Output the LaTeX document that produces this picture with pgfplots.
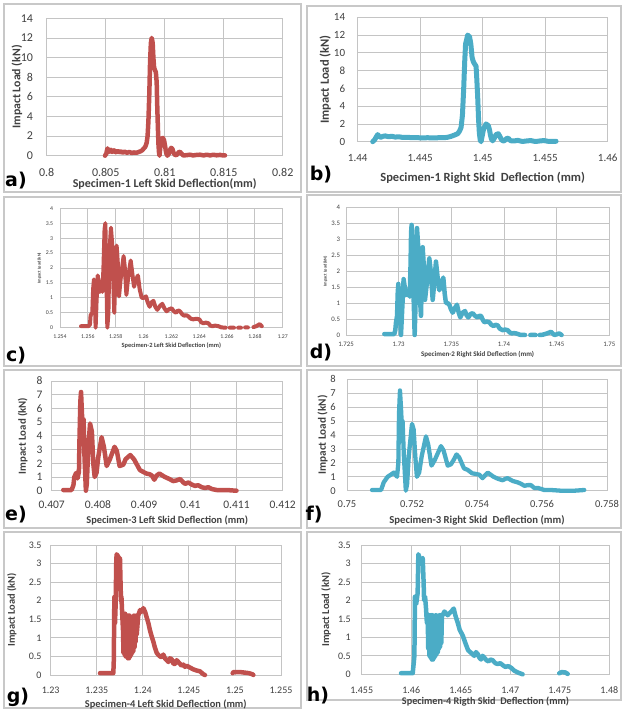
\documentclass[border=0pt]{standalone}
\usepackage{pgfplots}
\pgfplotsset{compat=1.18}
\usepackage{fontspec}
\setmainfont{Carlito}
\newfontfamily\lett{DejaVu Sans}
\definecolor{exred}{HTML}{C0504D}
\definecolor{excyan}{HTML}{4BACC6}
\definecolor{gridc}{HTML}{C4C4C4}
\definecolor{framec}{HTML}{C8C8C8}
\definecolor{txt}{HTML}{404040}
\newcommand\fs[1]{\fontsize{#1}{#1}\selectfont}

\pgfplotsset{
  excel/.style={
    scale only axis, anchor=south west,
    axis line style={draw=gridc, line width=0.8pt},
    grid=major, major grid style={draw=gridc, line width=0.8pt},
    tick style={draw=none},
    scaled x ticks=false, scaled y ticks=false,
    /pgf/number format/fixed, /pgf/number format/precision=3,
    /pgf/number format/assume math mode=true,
    clip=false, unbounded coords=jump,
    ticklabel style={text=txt},
    every axis x label/.style={at={(axis description cs:0.5,0)}, anchor=center, font=\bfseries, text=txt},
    every axis y label/.style={rotate=90, anchor=center, font=\bfseries, text=txt},
  },
  redline/.style={exred, line join=round, line cap=round},
  cyanline/.style={excyan, line join=round, line cap=round},
}

\begin{document}
\begin{tikzpicture}[x=1pt,y=1pt]
\path[use as bounding box] (0,0) rectangle (622,713);
% panel frames
\begin{scope}[draw=framec, line width=1.2pt]
\draw (4,521) rectangle (301,709);
\draw (307,521) rectangle (621,707);
\draw (4,347) rectangle (301,516);
\draw (307,347) rectangle (621,518);
\draw (4,185) rectangle (301,343);
\draw (307,185) rectangle (621,343);
\draw (4,5) rectangle (301,181);
\draw (307,13) rectangle (621,181);
\end{scope}

% (a)
\begin{axis}[excel, at={(46.7pt,557.3pt)}, width=236pt, height=137.4pt,
  xmin=0.8, xmax=0.82, ymin=0, ymax=14,
  xtick={0.8,0.805,0.81,0.815,0.82}, ytick={0,2,4,6,8,10,12,14},
  xticklabel style={font=\fs{12}, anchor=center, yshift=-17pt},
  yticklabel style={font=\fs{12}, anchor=east, inner sep=0pt, xshift=-13.5pt},
  xlabel={Specimen-1 Left Skid Deflection(mm)},
  xlabel style={font=\fs{12}\bfseries, yshift=-28.3pt},
  ylabel={Impact Load (kN)},
  ylabel style={font=\fs{11.8}\bfseries, at={(axis description cs:-0.1258,0.5)}}]
\addplot[redline, line width=4.5pt] coordinates {
(0.80494,0)(0.80505,0.2)(0.80515,0.75)(0.8052,0.35)(0.80527,0.65)(0.80535,0.4)(0.80545,0.6)(0.80555,0.38)(0.8057,0.55)(0.80585,0.35)(0.806,0.5)(0.80615,0.33)(0.8063,0.45)(0.80645,0.3)(0.8066,0.42)(0.8068,0.3)(0.807,0.38)(0.8072,0.28)(0.8074,0.33)(0.8076,0.3)(0.8078,0.38)(0.80795,0.45)(0.8081,0.55)(0.8082,0.7)(0.80835,0.9)(0.80847,1.3)(0.80855,2.0)(0.80862,3.5)(0.8087,6.5)(0.80876,9.5)(0.80883,11.5)(0.8089,12)(0.80898,11.5)(0.80904,10)(0.8091,9)(0.80918,8.7)(0.80925,8.5)(0.80932,7.5)(0.80937,5)(0.80942,3)(0.80947,1.2)(0.80952,0.3)(0.80956,0)(0.8096,0.5)(0.80966,1.3)(0.80975,1.75)(0.80985,1.8)(0.80994,1.6)(0.81003,1.0)(0.81012,0.3)(0.81023,0)(0.81035,0.2)(0.81045,0.6)(0.81055,0.8)(0.81065,0.7)(0.81075,0.3)(0.81088,0.05)(0.81105,0.1)(0.81118,0.35)(0.8113,0.4)(0.81143,0.2)(0.81158,0.02)(0.8118,0.05)(0.81215,0.1)(0.8124,0.03)(0.81271,0.08)(0.81299,0.1)(0.8133,0.03)(0.81356,0.1)(0.81385,0.03)(0.81412,0.1)(0.8144,0.04)(0.81469,0.08)(0.8149,0.04)(0.81511,0.03)};
\end{axis}

% (b)
\begin{axis}[excel, at={(357.7pt,571.3pt)}, width=250pt, height=124.4pt,
  xmin=1.44, xmax=1.46, ymin=0, ymax=14,
  xtick={1.44,1.445,1.45,1.455,1.46}, ytick={0,2,4,6,8,10,12,14},
  xticklabel style={font=\fs{11}, anchor=center, yshift=-16.6pt},
  yticklabel style={font=\fs{11}, anchor=east, inner sep=0pt, xshift=-12.4pt},
  xlabel={Specimen-1 Right Skid\ \ Deflection (mm)},
  xlabel style={font=\fs{12.5}\bfseries, yshift=-36.6pt},
  ylabel={Impact Load (kN)},
  ylabel style={font=\fs{12.5}\bfseries, at={(axis description cs:-0.1296,0.5)}}]
\addplot[cyanline, line width=5pt] coordinates {
(1.4412,0)(1.44135,0.2)(1.44147,0.5)(1.4416,0.8)(1.44175,0.55)(1.44187,0.5)(1.442,0.6)(1.4422,0.65)(1.4425,0.55)(1.4427,0.62)(1.443,0.52)(1.4433,0.55)(1.4436,0.48)(1.444,0.5)(1.4443,0.45)(1.4447,0.47)(1.4451,0.42)(1.4456,0.45)(1.446,0.42)(1.4465,0.45)(1.44693,0.45)(1.4472,0.5)(1.44747,0.6)(1.44775,0.75)(1.448,0.9)(1.44815,1.2)(1.44827,1.6)(1.44838,3)(1.44848,6)(1.44856,9)(1.44863,11)(1.4488,12)(1.44895,11.8)(1.44905,11)(1.44915,9.5)(1.44925,9)(1.44933,8.8)(1.44947,8.5)(1.44953,7)(1.4496,5)(1.44967,2.5)(1.44973,1)(1.4498,0.2)(1.44987,0)(1.44995,0.6)(1.45008,1.5)(1.45027,2)(1.45045,1.8)(1.45055,1.3)(1.45061,0.8)(1.4507,0.3)(1.4508,0.1)(1.45093,0.4)(1.45107,0.8)(1.45125,0.9)(1.45137,0.6)(1.45147,0.3)(1.4516,0.1)(1.45173,0.1)(1.4519,0.35)(1.45205,0.4)(1.45215,0.2)(1.45227,0.1)(1.4525,0.08)(1.4528,0.15)(1.4531,0.05)(1.45333,0.05)(1.4536,0.1)(1.45387,0.12)(1.4541,0.05)(1.4544,0.05)(1.45465,0.1)(1.45493,0.12)(1.4552,0.05)(1.45547,0.05)(1.45587,0.05)};
\end{axis}

% (c)
\begin{axis}[excel, at={(60pt,385.3pt)}, width=222.7pt, height=119.4pt,
  xmin=1.254, xmax=1.27, ymin=0, ymax=4,
  xtick={1.254,1.256,1.258,1.26,1.262,1.264,1.266,1.268,1.27},
  ytick={0,0.5,1,1.5,2,2.5,3,3.5,4},
  xticklabel style={font=\fs{5.8}, anchor=center, yshift=-9pt},
  yticklabel style={font=\fs{5.8}, anchor=east, inner sep=0pt, xshift=-6.7pt},
  xlabel={Specimen-2 Left Skid Deflection (mm)},
  xlabel style={font=\fs{6.4}\bfseries, yshift=-18pt},
  ylabel={Impact Load (kN)},
  ylabel style={font=\fs{4.3}\bfseries, at={(axis description cs:-0.093,0.5)}}]
\addplot[redline, line width=4pt] coordinates {
(1.25551,0.05)(1.25604,0.05)(1.25615,0.1)(1.2562,0.42)(1.25632,0.5)(1.25638,1.3)(1.25644,1.62)(1.2565,1.0)(1.25656,0)(1.25662,0.8)(1.25671,1.75)(1.2568,1.5)(1.25687,1.2)(1.25693,1.25)(1.25699,1.35)(1.25705,1.2)(1.25712,2.0)(1.2572,3.3)(1.25726,3.5)(1.25732,2.0)(1.2574,0)(1.25748,0.5)(1.25755,2.5)(1.25766,3.35)(1.25775,2.8)(1.25783,1.5)(1.2579,0.5)(1.25798,1.8)(1.25807,2.75)(1.25815,2.2)(1.25824,1.05)(1.25835,1.6)(1.25857,2.4)(1.25866,2.0)(1.25877,1.1)(1.2589,1.7)(1.25908,2.25)(1.2592,1.8)(1.25932,1.37)(1.25945,1.6)(1.2596,1.75)(1.25972,1.3)(1.25987,1.0)(1.26003,1.0)(1.26018,1.05)(1.2603,0.85)(1.26044,0.7)(1.26058,0.85)(1.26071,0.9)(1.26085,0.7)(1.26099,0.6)(1.26117,0.72)(1.26135,0.8)(1.2615,0.65)(1.26166,0.55)(1.26184,0.62)(1.26202,0.65)(1.26218,0.55)(1.26234,0.5)(1.26248,0.58)(1.26262,0.55)(1.26278,0.45)(1.26293,0.4)(1.26308,0.42)(1.26322,0.38)(1.2634,0.3)(1.26358,0.28)(1.2638,0.3)(1.26401,0.28)(1.26415,0.18)(1.2643,0.15)(1.26448,0.17)(1.26466,0.15)(1.2648,0.07)(1.26495,0.05)(1.26515,0.07)(1.26538,0.05)(1.2656,0.01)(1.2659,0)(1.266,nan)(1.2662,0)(1.2665,0)(1.2666,nan)(1.2668,0)(1.267,0)(1.2671,nan)(1.2673,0.01)(1.2675,0.01)(1.2677,nan)(1.2679,0.02)(1.2681,0.05)(1.26835,0.12)(1.2685,0.05)};
\end{axis}

% (d)
\begin{axis}[excel, at={(346pt,378pt)}, width=263.3pt, height=127.7pt,
  xmin=1.725, xmax=1.75, ymin=0, ymax=4,
  xtick={1.725,1.73,1.735,1.74,1.745,1.75},
  ytick={0,0.5,1,1.5,2,2.5,3,3.5,4},
  xticklabel style={font=\fs{6.8}, anchor=center, yshift=-9pt},
  yticklabel style={font=\fs{6.8}, anchor=east, inner sep=0pt, xshift=-5.7pt},
  xlabel={Specimen-2 Right Skid Deflection (mm)},
  xlabel style={font=\fs{7}\bfseries, yshift=-19pt},
  ylabel={Impact Load (kN)},
  ylabel style={font=\fs{4.3}\bfseries, at={(axis description cs:-0.0786,0.5)}}]
\addplot[cyanline, line width=4.5pt] coordinates {
(1.72864,0.03)(1.72959,0.03)(1.72968,0.15)(1.72975,0.4)(1.72985,0.6)(1.72991,1.3)(1.72997,1.6)(1.7301,0.9)(1.73022,0)(1.73035,0.9)(1.73047,1.75)(1.73058,1.5)(1.7307,1.25)(1.73082,1.3)(1.73095,1.35)(1.73105,1.2)(1.73113,2.2)(1.73118,3.2)(1.73123,3.45)(1.73135,2.0)(1.73152,0)(1.73162,1.2)(1.73168,2.8)(1.73174,3.35)(1.73185,2.8)(1.73198,1.4)(1.73212,0.6)(1.7322,1.8)(1.73228,2.75)(1.73238,2.2)(1.7325,1.1)(1.7327,1.7)(1.73291,2.4)(1.73305,2.0)(1.73323,1.1)(1.7334,1.7)(1.73354,2.3)(1.7337,1.8)(1.73386,1.4)(1.73405,1.6)(1.73424,1.8)(1.73437,1.3)(1.73449,1.0)(1.73465,1.0)(1.73481,0.95)(1.73497,0.8)(1.73513,0.7)(1.73535,0.85)(1.73554,0.95)(1.7357,0.7)(1.73585,0.55)(1.73607,0.7)(1.7363,0.75)(1.73645,0.62)(1.73661,0.55)(1.73683,0.66)(1.73703,0.68)(1.73725,0.6)(1.7375,0.55)(1.73766,0.6)(1.73782,0.6)(1.73798,0.48)(1.73813,0.4)(1.73837,0.42)(1.73861,0.4)(1.7388,0.32)(1.73902,0.28)(1.7392,0.32)(1.7394,0.3)(1.7396,0.2)(1.73987,0.15)(1.7401,0.17)(1.74035,0.15)(1.74055,0.08)(1.74073,0.05)(1.74095,0.06)(1.74114,0.05)(1.7414,0.02)(1.74161,0)(1.742,0)(1.7423,nan)(1.7425,0)(1.743,0)(1.7432,nan)(1.7434,0)(1.7437,0.01)(1.7441,0.05)(1.74446,0.1)(1.74478,0)(1.745,0.02)(1.74525,0.05)(1.74547,0)};
\end{axis}

% (e)
\begin{axis}[excel, at={(51.7pt,222.3pt)}, width=231pt, height=109.7pt,
  xmin=0.407, xmax=0.412, ymin=0, ymax=8,
  xtick={0.407,0.408,0.409,0.41,0.411,0.412}, ytick={0,1,2,3,4,5,6,7,8},
  xticklabel style={font=\fs{11.5}, anchor=center, yshift=-14.3pt},
  yticklabel style={font=\fs{11.5}, anchor=east, inner sep=0pt, xshift=-9pt},
  xlabel={Specimen-3 Left Skid Deflection (mm)},
  xlabel style={font=\fs{10.4}\bfseries, yshift=-30pt},
  ylabel={Impact Load (kN)},
  ylabel style={font=\fs{10.8}\bfseries, at={(axis description cs:-0.1255,0.5)}}]
\addplot[redline, line width=4.5pt] coordinates {
(0.40725,0.05)(0.40743,0.05)(0.40747,0.4)(0.40749,1.0)(0.40753,1.3)(0.40756,0.9)(0.40759,1.4)(0.4076,3.5)(0.40762,6.5)(0.407635,7.2)(0.40765,6.0)(0.40767,4.5)(0.40769,5.2)(0.40771,2.5)(0.40774,0)(0.40776,0.5)(0.40779,3.0)(0.40783,4.9)(0.40787,4.3)(0.4079,2.0)(0.40793,1.0)(0.40797,1.3)(0.40801,2.5)(0.40808,3.9)(0.40813,3.2)(0.40819,1.8)(0.40826,2.3)(0.40836,3.2)(0.40841,2.9)(0.40847,1.8)(0.40855,1.9)(0.4086,2.3)(0.4087,2.6)(0.40878,2.3)(0.40891,1.5)(0.40905,1.25)(0.40912,1.2)(0.40917,1.1)(0.40922,0.8)(0.40927,1.1)(0.40933,1.25)(0.40945,1.0)(0.40955,0.85)(0.40963,0.7)(0.4097,0.75)(0.40978,0.85)(0.40985,0.6)(0.40989,0.5)(0.40996,0.6)(0.41003,0.45)(0.4101,0.35)(0.41017,0.4)(0.41025,0.25)(0.41032,0.2)(0.41039,0.25)(0.41047,0.12)(0.41057,0.05)(0.41068,0.05)(0.41079,0.05)(0.4109,0.02)(0.411,0)};
\end{axis}

% (f)
\begin{axis}[excel, at={(347pt,222.3pt)}, width=260pt, height=111.4pt,
  xmin=0.75, xmax=0.758, ymin=0, ymax=8,
  xtick={0.75,0.752,0.754,0.756,0.758}, ytick={0,1,2,3,4,5,6,7,8},
  xticklabel style={font=\fs{10.5}, anchor=center, yshift=-13.6pt},
  yticklabel style={font=\fs{10.5}, anchor=east, inner sep=0pt, xshift=-11pt},
  xlabel={Specimen-3 Right Skid\ \ Deflection (mm)},
  xlabel style={font=\fs{10.7}\bfseries, yshift=-29.3pt},
  ylabel={Impact Load (kN)},
  ylabel style={font=\fs{11.2}\bfseries, at={(axis description cs:-0.0935,0.5)}}]
\addplot[cyanline, line width=4.3pt] coordinates {
(0.75077,0.05)(0.75105,0.05)(0.75113,0.6)(0.75125,1.0)(0.75135,1.15)(0.75144,1.3)(0.75154,1.0)(0.75158,2.0)(0.7516,5.5)(0.75163,7.2)(0.75166,6.0)(0.75169,4.5)(0.75171,5.0)(0.75175,2.5)(0.75181,0)(0.75185,0.5)(0.7519,2.5)(0.752,4.8)(0.75205,4.4)(0.7521,2.5)(0.75215,1.0)(0.75222,1.3)(0.7523,2.5)(0.75243,3.9)(0.7525,3.3)(0.7526,1.8)(0.7527,2.2)(0.75289,3.2)(0.75297,2.9)(0.7531,1.8)(0.7532,1.9)(0.75328,2.2)(0.75337,2.6)(0.75345,2.4)(0.7536,1.6)(0.75371,1.5)(0.75385,1.25)(0.75397,1.2)(0.75407,1.15)(0.75417,0.9)(0.75425,1.1)(0.75433,1.3)(0.75451,1.0)(0.75465,0.85)(0.75479,0.75)(0.75487,0.85)(0.75494,0.9)(0.7551,0.7)(0.75525,0.6)(0.75535,0.5)(0.75546,0.35)(0.75556,0.4)(0.75566,0.4)(0.75576,0.2)(0.75587,0.2)(0.75598,0.12)(0.75607,0.05)(0.75628,0.05)(0.75658,0)(0.757,0)(0.7573,0.05)};
\end{axis}

% (g)
\begin{axis}[excel, at={(50.7pt,38pt)}, width=230.3pt, height=130pt,
  xmin=1.23, xmax=1.255, ymin=0, ymax=3.5,
  xtick={1.23,1.235,1.24,1.245,1.25,1.255}, ytick={0,0.5,1,1.5,2,2.5,3,3.5},
  xticklabel style={font=\fs{10}, anchor=center, yshift=-15pt},
  yticklabel style={font=\fs{10}, anchor=east, inner sep=0pt, xshift=-9pt},
  xlabel={Specimen-4 Left Skid Deflection (mm)},
  xlabel style={font=\fs{10.4}\bfseries, yshift=-29pt},
  ylabel={Impact Load (kN)},
  ylabel style={font=\fs{10.4}\bfseries, at={(axis description cs:-0.1693,0.5)}}]
\addplot[redline, line width=4.5pt] coordinates {
(1.23535,0.05)(1.2368,0.05)(1.23685,0.4)(1.23691,2.1)(1.23698,1.4)(1.23705,1.9)(1.23712,3.1)(1.23716,3.25)(1.2373,3.2)(1.23745,3.1)(1.23752,3.15)(1.23758,2.5)(1.23763,2.0)(1.23768,2.1)(1.23775,1.7)(1.23785,1.2)(1.2379,0.6)(1.23796,1.6)(1.23802,0.55)(1.23808,1.65)(1.23814,0.5)(1.2382,1.6)(1.23826,0.5)(1.23832,1.6)(1.23838,0.45)(1.23844,1.6)(1.2385,0.45)(1.23856,1.6)(1.23862,0.5)(1.23868,1.55)(1.23874,0.55)(1.2388,1.55)(1.23886,0.6)(1.23892,1.55)(1.23898,0.65)(1.23904,1.6)(1.2391,0.75)(1.23916,1.55)(1.23922,0.9)(1.23928,1.6)(1.23934,1.1)(1.2395,1.6)(1.2397,1.75)(1.23985,1.7)(1.24006,1.8)(1.24025,1.7)(1.24042,1.55)(1.2406,1.4)(1.24078,1.2)(1.24095,1.05)(1.24114,0.9)(1.2413,0.75)(1.2415,0.6)(1.24165,0.55)(1.24187,0.5)(1.24205,0.48)(1.24223,0.55)(1.2424,0.45)(1.24259,0.4)(1.24278,0.35)(1.24295,0.45)(1.24315,0.42)(1.24333,0.3)(1.24352,0.3)(1.24368,0.4)(1.24385,0.35)(1.24404,0.3)(1.2442,0.25)(1.2444,0.28)(1.24458,0.22)(1.24476,0.25)(1.24512,0.2)(1.2455,0.15)(1.24585,0.12)(1.2462,0.1)(1.24657,0.02)(1.24675,0)(1.248,nan)(1.24975,0.05)(1.24985,0.08)(1.2505,0.08)(1.2512,0.06)(1.2515,0.05)(1.2519,0.02)(1.252,0)};
\end{axis}

% (h)
\begin{axis}[excel, at={(361.7pt,38.7pt)}, width=247.6pt, height=129.3pt,
  xmin=1.455, xmax=1.48, ymin=0, ymax=3.5,
  xtick={1.455,1.46,1.465,1.47,1.475,1.48}, ytick={0,0.5,1,1.5,2,2.5,3,3.5},
  xticklabel style={font=\fs{10}, anchor=center, yshift=-15.7pt},
  yticklabel style={font=\fs{10}, anchor=east, inner sep=0pt, xshift=-10.7pt},
  xlabel={Specimen-4 Rigth Skid\ \ Deflection (mm)},
  xlabel style={font=\fs{10.2}\bfseries, yshift=-27.4pt},
  ylabel={Impact Load (kN)},
  ylabel style={font=\fs{10.5}\bfseries, at={(axis description cs:-0.1442,0.5)}}]
\addplot[cyanline, line width=4.5pt] coordinates {
(1.45897,0.03)(1.46015,0.03)(1.46025,0.3)(1.46032,0.5)(1.46038,2.1)(1.4605,1.9)(1.46065,2.2)(1.46072,3.25)(1.4609,3.1)(1.46105,3.1)(1.46116,3.15)(1.46125,2.5)(1.4613,2.0)(1.4614,2.1)(1.46149,1.8)(1.46158,1.4)(1.46166,1.6)(1.46172,0.7)(1.46178,1.6)(1.46184,0.5)(1.4619,1.6)(1.46196,0.45)(1.46202,1.6)(1.46208,0.4)(1.46214,1.6)(1.4622,0.4)(1.46226,1.55)(1.46232,0.45)(1.46238,1.55)(1.46244,0.5)(1.4625,1.6)(1.46256,0.55)(1.46262,1.55)(1.46268,0.6)(1.46274,1.55)(1.4628,0.7)(1.46286,1.6)(1.46292,0.75)(1.46298,1.6)(1.46304,0.85)(1.4631,1.6)(1.46318,1.6)(1.46335,1.7)(1.46351,1.65)(1.46368,1.6)(1.46385,1.65)(1.46405,1.7)(1.46429,1.78)(1.46445,1.6)(1.46469,1.4)(1.4649,1.2)(1.4652,1.05)(1.46553,0.8)(1.46575,0.65)(1.46604,0.58)(1.46637,0.5)(1.46654,0.6)(1.46671,0.55)(1.46688,0.45)(1.46705,0.4)(1.4672,0.5)(1.46738,0.45)(1.4676,0.38)(1.4678,0.35)(1.468,0.4)(1.46822,0.38)(1.4685,0.3)(1.46873,0.28)(1.469,0.3)(1.46923,0.25)(1.4695,0.2)(1.4698,0.22)(1.47007,0.18)(1.4704,0.1)(1.47075,0.05)(1.47105,0.02)(1.47125,0)(1.473,nan)(1.47495,0.03)(1.4752,0.06)(1.47555,0.05)(1.4758,0.01)};
\end{axis}

% panel letters
\begin{scope}[every node/.style={font=\lett\bfseries\fs{19}, inner sep=0pt}]
\node at (16,532) {a)};
\node at (321,538) {b)};
\node at (16,357.5) {c)};
\node at (321,360) {d)};
\node at (16,198) {e)};
\node at (314,198) {f)};
\node at (18,16) {g)};
\node at (318,17) {h)};
\end{scope}
\end{tikzpicture}
\end{document}
